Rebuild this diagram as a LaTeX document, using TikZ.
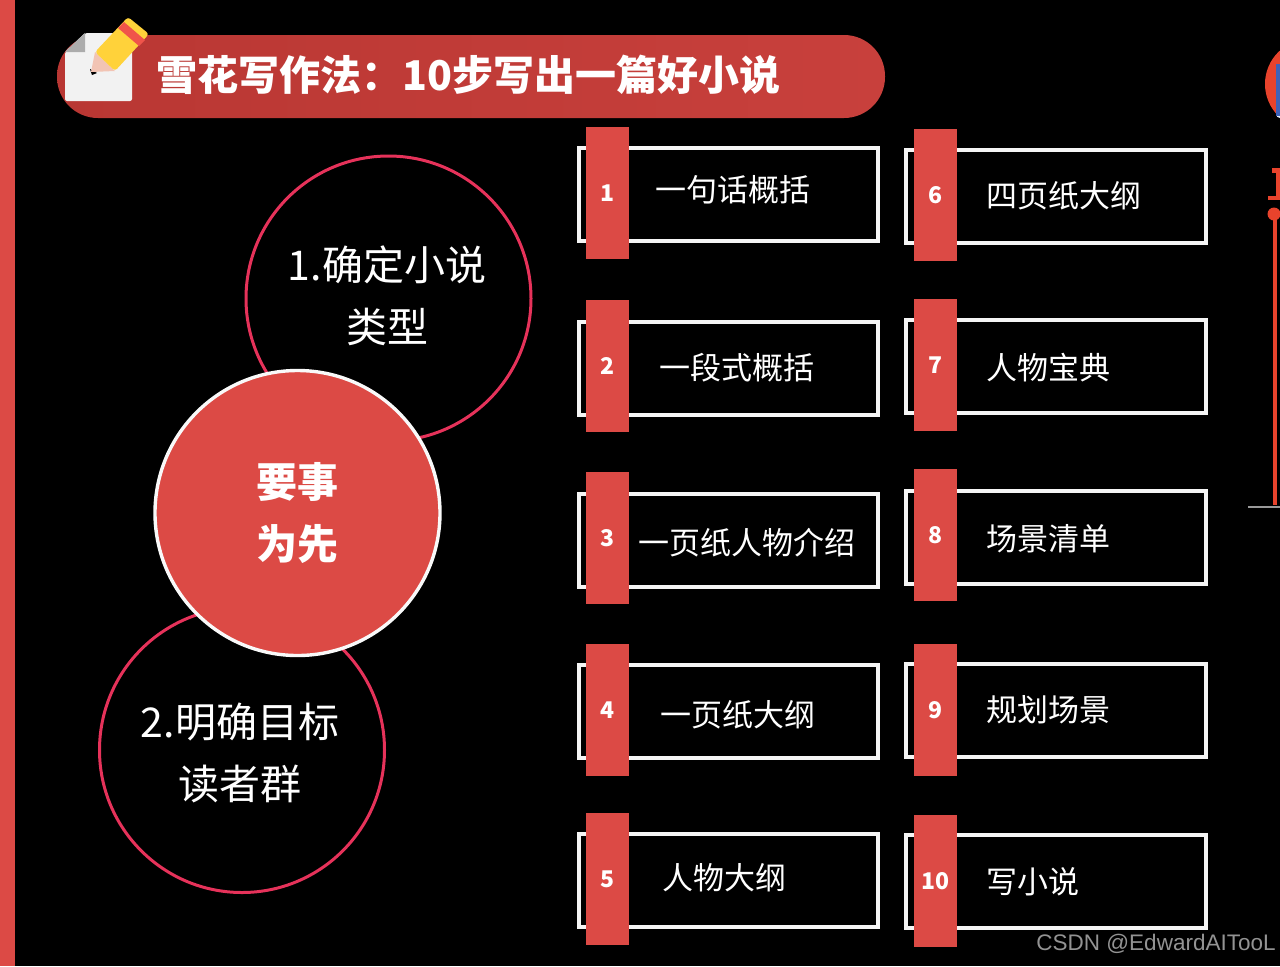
\documentclass[tikz,border=0pt]{standalone}
\usepackage{fontspec}
\setmainfont{Noto Sans CJK SC}
\newfontfamily\wmfont{Liberation Sans}
\definecolor{tabred}{HTML}{DC4A45}
\definecolor{pillA}{HTML}{B93733}
\definecolor{pillB}{HTML}{C8403C}
\definecolor{ringred}{HTML}{E6325A}
\definecolor{sidered}{HTML}{E8432C}
\definecolor{pencilY}{HTML}{FFD23A}
\definecolor{pencilR}{HTML}{F0544A}
\definecolor{pencilS}{HTML}{F2C4B4}
\definecolor{docW}{HTML}{E4ECFB}
\definecolor{docB}{HTML}{3F62B8}
\tikzset{
  boxframe/.style={draw=white!92!gray,line width=1.8pt,fill=black,minimum width=149.7pt,minimum height=46.7pt,anchor=north west,inner sep=0},
  tab/.style={fill=tabred,minimum width=21.5pt,minimum height=66pt,anchor=north west,inner sep=0,text=white,font=\bfseries\fontsize{11.5}{12}\selectfont},
  boxtext/.style={text=white,anchor=west,inner sep=0,font=\fontsize{15.5}{16}\selectfont},
  ring/.style={circle,draw=ringred,line width=1.5pt,fill=black,minimum size=142.5pt,inner sep=0},
  ringtext/.style={text=white,align=center,inner sep=0,font=\fontsize{20.5}{31}\selectfont},
  hub/.style={circle,draw=white!95!gray,line width=1.7pt,fill=tabred,minimum size=142.5pt,inner sep=0,text=white,align=center,font=\bfseries\fontsize{20.5}{31}\selectfont},
}
\begin{document}
\begin{tikzpicture}[x=0.5pt,y=-0.5pt]
\useasboundingbox (0,0) rectangle (1280,966);
\fill[black] (0,0) rectangle (1280,966);
\fill[tabred] (0,0) rectangle (15,966);
% title pill
\shade[left color=pillA,right color=pillB,rounded corners=20.5pt] (57,35) rectangle (885,118);
\node[anchor=west,inner sep=0,text=white,font=\bfseries\fontsize{20.5}{20}\selectfont] (title) at (156,75) {雪花写作法：10步写出一篇好小说};
% icon
\fill[white!90!gray,rounded corners=1pt] (85,33) -- (132,33) -- (132,101) -- (65,101) -- (65,52) -- cycle;
\fill[gray!65] (85,33) -- (65,52) -- (85,52) -- cycle;
\fill[black] (90,69) -- (97,73) -- (92,75) -- cycle;
\fill[pencilS] (95,52) -- (115,71) -- (91,72) -- cycle;
\fill[pencilY,rounded corners=1.5pt] (128,17) -- (149,34) -- (115,71) -- (95,52) -- cycle;
\fill[pencilR] (118,28) -- (124,22) -- (145,40) -- (139,46) -- cycle;
% circles
\node[ring] (c1) at (388.5,298.5) {};
\node[ring] (c2) at (242,750) {};
\node[ringtext] (c1t) at (387,296) {1.确定小说\\类型};
\node[ringtext] (c2t) at (240,753) {2.明确目标\\读者群};
\node[hub] (hub) at (297.5,513) {要事\\为先};
% left column
\foreach \n/\by/\ty/\tx/\tty/\txt/\num in {a/146/127/655/190/一句话概括/1,b/320/300/659/368/一段式概括/2,c/492/472/638/543/一页纸人物介绍/3,d/663/644/660/715/一页纸大纲/4,e/832/813/662/878/人物大纲/5}{
  \node[boxframe] (box\n) at (577,\by) {};
  \node[tab] (tab\n) at (586,\ty) {\num};
  \node[boxtext] (txt\n) at (\tx,\tty) {\txt};
}
% right column
\foreach \n/\by/\ty/\tx/\tty/\txt/\num in {f/148/129/986/196/四页纸大纲/6,g/318/299/986/368/人物宝典/7,h/489/469/986/539/场景清单/8,i/662/644/986/710/规划场景/9,j/833/815/986/882/写小说/10}{
  \node[boxframe,minimum width=150.2pt] (box\n) at (904,\by) {};
  \node[tab] (tab\n) at (914,\ty) {\num};
  \node[boxtext] (txt\n) at (\tx,\tty) {\txt};
}
% right edge fragment
\begin{scope}
\clip (0,0) rectangle (1280,966);
\fill[sidered] (1310,84) circle (45);
\fill[docW,rounded corners=2pt] (1276,64) rectangle (1290,118);
\fill[docB] (1276,64) rectangle (1280,116);
\end{scope}
\fill[sidered] (1272,168) rectangle (1280,173);
\fill[sidered] (1276,168) rectangle (1280,200);
\fill[sidered] (1268,196) rectangle (1280,200);
\fill[sidered] (1274,214) circle (6.5);
\fill[sidered] (1273,214) rectangle (1277,505);
\fill[gray!80] (1248,506) rectangle (1280,508);
% watermark
\node[anchor=east,inner sep=0,text=gray!85,font=\wmfont\fontsize{11.25}{12}\selectfont] (wm) at (1276,944) {CSDN @EdwardAITooL};
\end{tikzpicture}
\end{document}
